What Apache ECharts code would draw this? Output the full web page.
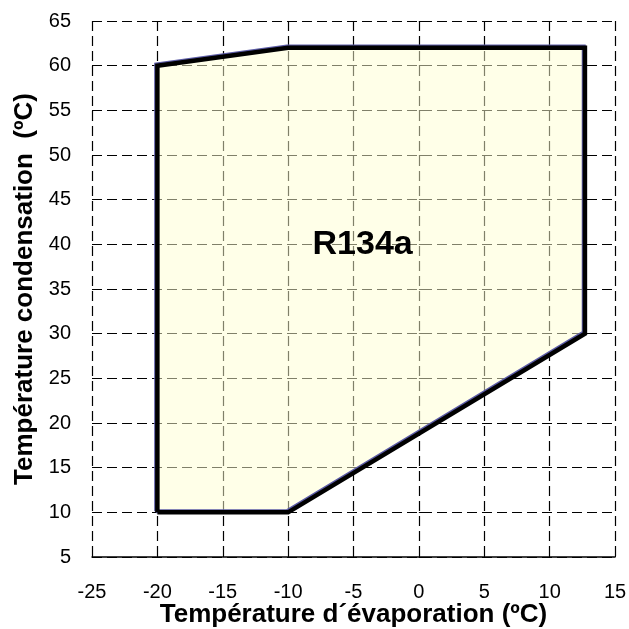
<!DOCTYPE html>
<html style="height: 100%">
<head>
    <meta charset="utf-8">
</head>
<body style="height: 100%; margin: 0; background: #fff">
    <div id="container" style="width: 629px; height: 629px"></div>
    <script type="text/javascript" src="https://cdn.jsdelivr.net/npm/echarts@6/dist/echarts.min.js"></script>
    <script type="text/javascript">
        // enveloppe de fonctionnement R134a (evap, cond)
        var evapTemps = [-20, -10, 12.7, 12.7, -10, -20, -20];
        var condTemps = [10, 10, 30, 62, 62, 60, 10];
        var labelText = 'R134a';
        var labelPos = [-4.3, 40];
        var xTicks = [-25, -20, -15, -10, -5, 0, 5, 10, 15];
        var yTicks = [5, 10, 15, 20, 25, 30, 35, 40, 45, 50, 55, 60, 65];

        var envelope = evapTemps.map(function (x, i) { return [x, condTemps[i]]; });

        var dom = document.getElementById("container");
        var myChart = echarts.init(dom);
        var font = 'Liberation Sans, Arial, sans-serif';

        var option = {
            animation: false,
            grid: {
                left: 92,
                right: 14,
                top: 21,
                bottom: 72,
                containLabel: false,
                outerBoundsMode: 'none'
            },
            xAxis: {
                type: 'value',
                min: xTicks[0],
                max: xTicks[xTicks.length - 1],
                interval: 5,
                name: 'Température d´évaporation (ºC)',
                nameLocation: 'middle',
                nameGap: 45,
                nameMoveOverlap: false,
                nameTextStyle: { fontFamily: font, fontSize: 26, fontWeight: 'bold', color: '#000' },
                axisLine: { onZero: false, lineStyle: { color: '#000', width: 1.5 } },
                axisTick: { inside: true, length: 6, lineStyle: { color: '#000' } },
                axisLabel: { margin: 25, fontFamily: font, fontSize: 20, color: '#000' },
                splitLine: { show: true, lineStyle: { color: '#000', type: [10, 5], width: 1.2 } }
            },
            yAxis: {
                type: 'value',
                min: yTicks[0],
                max: yTicks[yTicks.length - 1],
                interval: 5,
                name: 'Température condensation  (ºC)',
                nameLocation: 'middle',
                nameGap: 54,
                nameMoveOverlap: false,
                nameTextStyle: { fontFamily: font, fontSize: 26, fontWeight: 'bold', color: '#000' },
                axisLine: { show: false },
                axisTick: { show: true, inside: true, length: 6, lineStyle: { color: '#000' } },
                axisLabel: { margin: 21, fontFamily: font, fontSize: 20, color: '#000' },
                splitLine: { show: true, lineStyle: { color: '#000', type: [10, 5], width: 1.2 } }
            },
            series: [{
                type: 'custom',
                coordinateSystem: 'cartesian2d',
                data: [envelope[0]],
                z: 3,
                renderItem: function (params, api) {
                    var pts = envelope.map(function (p) { return api.coord(p); });
                    var shifted = pts.map(function (p) { return [p[0] - 1.2, p[1] - 1.2]; });
                    var lp = api.coord(labelPos);
                    return {
                        type: 'group',
                        children: [{
                            type: 'polygon',
                            shape: { points: pts },
                            style: { fill: 'rgba(255,255,209,0.5)', stroke: null }
                        }, {
                            type: 'polyline',
                            shape: { points: shifted },
                            style: { stroke: '#5c5ca6', lineWidth: 4, fill: null, lineJoin: 'miter' }
                        }, {
                            type: 'polyline',
                            shape: { points: pts },
                            style: { stroke: '#000', lineWidth: 4.5, fill: null, lineJoin: 'miter' }
                        }, {
                            type: 'text',
                            x: lp[0],
                            y: lp[1],
                            style: {
                                text: labelText,
                                fill: '#000',
                                font: 'bold 34px ' + font,
                                align: 'center',
                                verticalAlign: 'middle'
                            }
                        }]
                    };
                }
            }]
        };
        myChart.setOption(option);
    </script>
</body>
</html>
